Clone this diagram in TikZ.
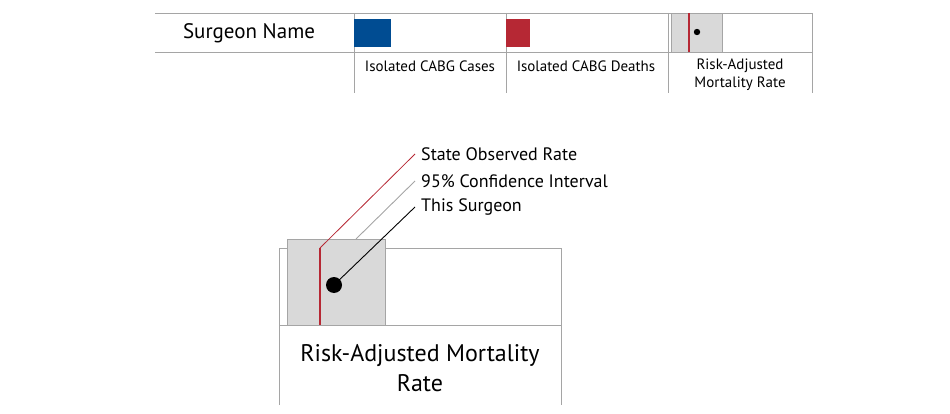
\documentclass[tikz,border=0pt]{standalone}
\usepackage{fontspec}
\setmainfont{PT Sans}
\definecolor{rulegray}{RGB}{165,165,165}
\definecolor{boxgray}{RGB}{217,217,217}
\definecolor{caseblue}{RGB}{0,76,146}
\definecolor{deathred}{RGB}{182,40,52}

\begin{document}
\begin{tikzpicture}[x=1pt,y=-1pt]
\tikzset{rule/.style={draw=rulegray, line width=0.9pt},
  grayfill/.style={rule, fill=boxgray},
  small/.style={font=\fontsize{15}{18}\selectfont, align=center},
  callout/.style={font=\fontsize{18}{20}\selectfont, anchor=west, inner sep=6pt}}
\useasboundingbox (0,0) rectangle (950,414);
% key row
\draw[rule] (155,13) -- (812,13);
\draw[rule] (155,52) -- (812,52);
\draw[rule] (354,13) -- (354,93);
\draw[rule] (506,13) -- (506,93);
\draw[rule] (668,13) -- (668,93);
\draw[rule] (812,13) -- (812,93);
\node (name) at (249,33) [font=\fontsize{21}{24}\selectfont] {Surgeon Name};
\fill[caseblue] (354,19) rectangle (391,47);
\fill[deathred] (506,19) rectangle (530,47);
\draw[grayfill] (671,13) rectangle (722,52);
\draw[deathred, line width=1.4pt] (689,13) -- (689,52);
\fill (697,32) circle (3.2);
\node[small] (cases) at (430,66) {Isolated CABG Cases};
\node[small] (deaths) at (586,66) {Isolated CABG Deaths};
\node[small] (rate) at (740,75) {Risk-Adjusted\\Mortality Rate};
% enlarged cell
\draw[rule] (279,405) -- (279,248) -- (561,248) -- (561,405);
\draw[rule] (279,325) -- (561,325);
\draw[grayfill] (287,239) rectangle (385,325);
\coordinate (state) at (320,248);
\coordinate (ci) at (356,239);
\draw[deathred, line width=1.4pt] (state) -- (320,325);
\node[circle, fill, inner sep=0pt, minimum size=16pt] (dot) at (334,285) {};
\node[callout] (statelab) at (415,154) {State Observed Rate};
\node[callout] (cilab) at (415,181) {95\% Confidence Interval};
\node[callout] (surglab) at (415,207) {This Surgeon};
\draw[deathred, line width=0.8pt] (state) -- (statelab.west);
\draw[rulegray, line width=0.9pt] (ci) -- (cilab.west);
\draw[line width=0.9pt] (dot.center) -- (surglab.west);
\node (bigrate) at (420,368) [font=\fontsize{24}{30}\selectfont, align=center] {Risk-Adjusted Mortality\\Rate};
\end{tikzpicture}
\end{document}
